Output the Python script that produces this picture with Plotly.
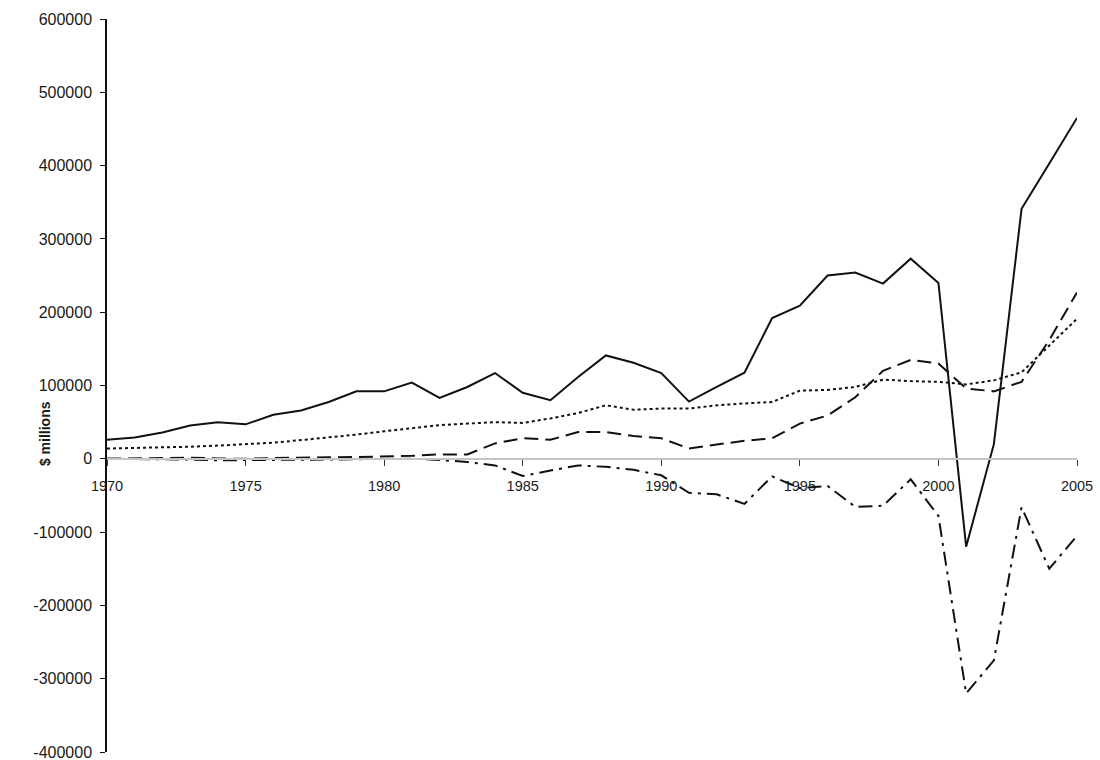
import plotly.graph_objects as go

# Years on the horizontal axis
years = list(range(1970, 2006))

# Annual flows, $ millions
series_solid = [26000, 29000, 36000, 45500, 50000, 47000, 60000, 66000, 77500, 92000,
                92000, 104000, 83000, 98000, 117000, 90000, 80000, 111500, 141000, 131000,
                117000, 78000, 98000, 117500, 192000, 209000, 250000, 254000, 239000, 273000,
                240000, -120000, 20000, 341000, 403000, 465000]
series_dotted = [14000, 14500, 15500, 16500, 18000, 19500, 22000, 25500, 29000, 33000,
                 37500, 42000, 46000, 48000, 50000, 49000, 55000, 62500, 73000, 67000,
                 68500, 68500, 73000, 75500, 77500, 93000, 94000, 98000, 108000, 106000,
                 105000, 101500, 107000, 118000, 155000, 191000]
series_dashed = [0, 500, 1000, 1500, 500, 0, 1000, 2000, 2000, 2500,
                 3000, 4000, 6000, 6000, 21000, 28000, 26000, 36500, 36500, 31000,
                 28000, 14000, 19500, 24500, 28000, 48000, 59000, 84000, 120000, 135000,
                 130000, 96000, 92000, 105000, 162000, 227000]
series_dashdot = [0, 0, -500, -1000, -2000, -1500, -1000, -1500, -1000, -500,
                  -500, 0, -1500, -4500, -9000, -23500, -16000, -9000, -11000, -15000,
                  -22500, -46500, -48500, -61500, -24000, -40000, -37000, -65500, -64000, -28000,
                  -78000, -320000, -275000, -66000, -150000, -105000]

# Axis ticks
x_ticks = [1970, 1975, 1980, 1985, 1990, 1995, 2000, 2005]
y_ticks = [600000, 500000, 400000, 300000, 200000, 100000, 0,
           -100000, -200000, -300000, -400000]
y_tick_labels = ["600000", "500000", "400000", "300000", "200000", "100000", "0",
                 "-100000", "-200000", "-300000", "-400000"]
y_title = "$ millions"

FONT = "Liberation Sans, Arial, sans-serif"
INK = "#1a1a1a"

fig = go.Figure()
for ys, dash in [(series_dotted, "dot"),
                 (series_dashed, "14px,7px"),
                 (series_dashdot, "14px,6px,3px,6px"),
                 (series_solid, "solid")]:
    fig.add_trace(go.Scatter(x=years, y=ys, mode="lines",
                             line=dict(color="#111111", width=2, dash=dash),
                             showlegend=False, hoverinfo="skip"))

fig.update_layout(
    width=1100, height=760,
    margin=dict(l=107, r=23, t=19, b=8, autoexpand=False),
    paper_bgcolor="white", plot_bgcolor="white",
    font=dict(family=FONT, size=16, color=INK),
    xaxis=dict(
        range=[1970, 2005], tickvals=x_ticks, ticks="outside", ticklen=6,
        tickcolor="#333333", tickwidth=1,
        showline=True, linecolor="#c4c4c4", linewidth=2,
        showgrid=False, zeroline=False, automargin=False,
        anchor="free", position=0.4,
        ticklabelstandoff=8,
        tickfont=dict(family=FONT, size=14.5, color=INK),
    ),
    yaxis=dict(
        range=[-400000, 600000], tickvals=y_ticks, ticktext=y_tick_labels,
        ticks="outside", ticklen=5, tickcolor="#111111", tickwidth=1,
        showline=True, linecolor="#111111", linewidth=1.5,
        showgrid=False, zeroline=False, automargin=False,
        ticklabelstandoff=5, ticklabeloverflow="allow",
        tickfont=dict(family=FONT, size=16, color=INK),
    ),
    annotations=[dict(
        text="<b>" + y_title + "</b>", textangle=-90,
        xref="paper", yref="paper", x=-0.064, y=0.435,
        xanchor="center", yanchor="middle", showarrow=False,
        font=dict(family=FONT, size=14, color=INK),
    )],
)

fig.write_html("out.html")
